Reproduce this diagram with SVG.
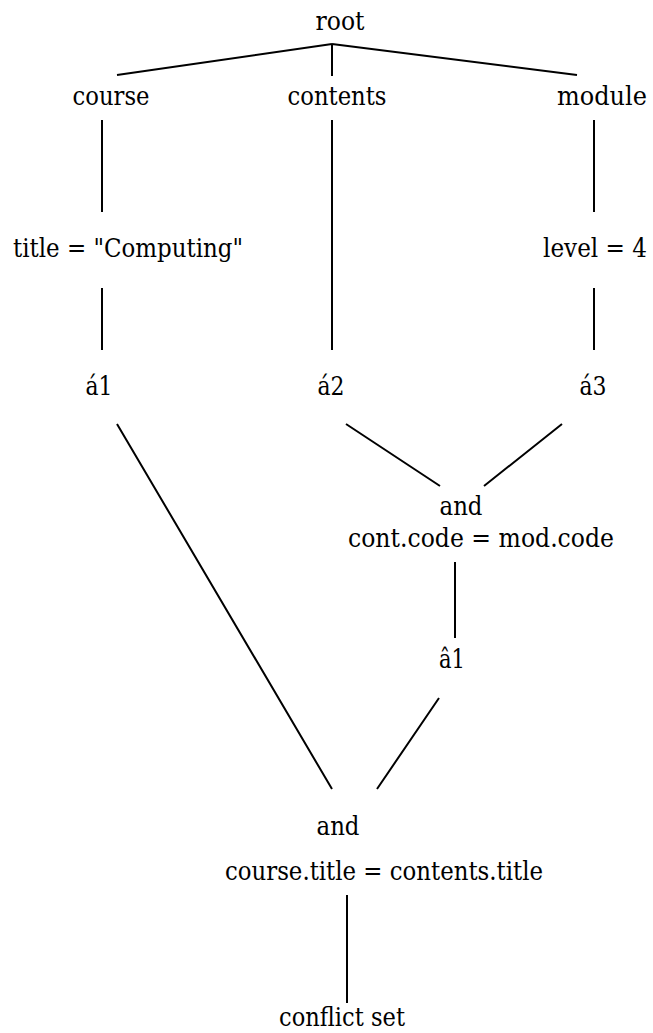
<svg xmlns="http://www.w3.org/2000/svg" width="653" height="1033" viewBox="0 0 653 1033">
  <style>
    .lbl { font-family: 'DejaVu Serif', serif; font-size: 26px; fill: #000; text-anchor: middle; }
    .lbl.start { text-anchor: start; }
    .lbl.end { text-anchor: end; }
    .edge { stroke: #000; stroke-width: 2; fill: none; }
  </style>
  <rect width="653" height="1033" fill="#fff"/>
  <!-- tree edges: root to relations, tests, alpha memories, joins -->
  <g id="connectors">
    <path class="edge" d="M332,44 L117,75 M332,44 L332,76 M332,44 L577,75"/>
    <path class="edge" d="M102,120 L102,212 M594,120 L594,212 M332,120 L332,350"/>
    <path class="edge" d="M102,288 L102,350 M594,288 L594,350"/>
    <path class="edge" d="M346,424 L440,486 M562,424 L484,486"/>
    <path class="edge" d="M455,562 L455,638"/>
    <path class="edge" d="M117,424 L332,789 M439,698 L377,789"/>
    <path class="edge" d="M347,895 L347,1003"/>
  </g>
  <g id="root"><text class="lbl" x="340" y="30" textLength="49" lengthAdjust="spacingAndGlyphs">root</text></g>
  <g id="course"><text class="lbl" x="111" y="105" textLength="77" lengthAdjust="spacingAndGlyphs">course</text></g>
  <g id="contents"><text class="lbl" x="337" y="105" textLength="99" lengthAdjust="spacingAndGlyphs">contents</text></g>
  <g id="module"><text class="lbl end" x="647" y="105" textLength="90" lengthAdjust="spacingAndGlyphs">module</text></g>
  <g id="title-test"><text class="lbl start" x="13" y="257" textLength="230" lengthAdjust="spacingAndGlyphs">title = "Computing"</text></g>
  <g id="level-test"><text class="lbl end" x="647" y="257" textLength="104" lengthAdjust="spacingAndGlyphs">level = 4</text></g>
  <g id="alpha1"><text class="lbl" x="99" y="395" textLength="27" lengthAdjust="spacingAndGlyphs">á1</text></g>
  <g id="alpha2"><text class="lbl" x="331" y="395" textLength="27" lengthAdjust="spacingAndGlyphs">á2</text></g>
  <g id="alpha3"><text class="lbl" x="593" y="395" textLength="27" lengthAdjust="spacingAndGlyphs">á3</text></g>
  <g id="join1">
    <text class="lbl" x="461" y="515" textLength="43" lengthAdjust="spacingAndGlyphs">and</text>
    <text class="lbl" x="481" y="547" textLength="266" lengthAdjust="spacingAndGlyphs">cont.code = mod.code</text>
  </g>
  <g id="beta1"><text class="lbl" x="452" y="668" textLength="26" lengthAdjust="spacingAndGlyphs">â1</text></g>
  <g id="join2">
    <text class="lbl" x="338" y="835" textLength="43" lengthAdjust="spacingAndGlyphs">and</text>
    <text class="lbl start" x="225" y="880" textLength="318" lengthAdjust="spacingAndGlyphs">course.title = contents.title</text>
  </g>
  <g id="conflict-set"><text class="lbl" x="342" y="1026" textLength="126" lengthAdjust="spacingAndGlyphs">conflict set</text></g>
</svg>
